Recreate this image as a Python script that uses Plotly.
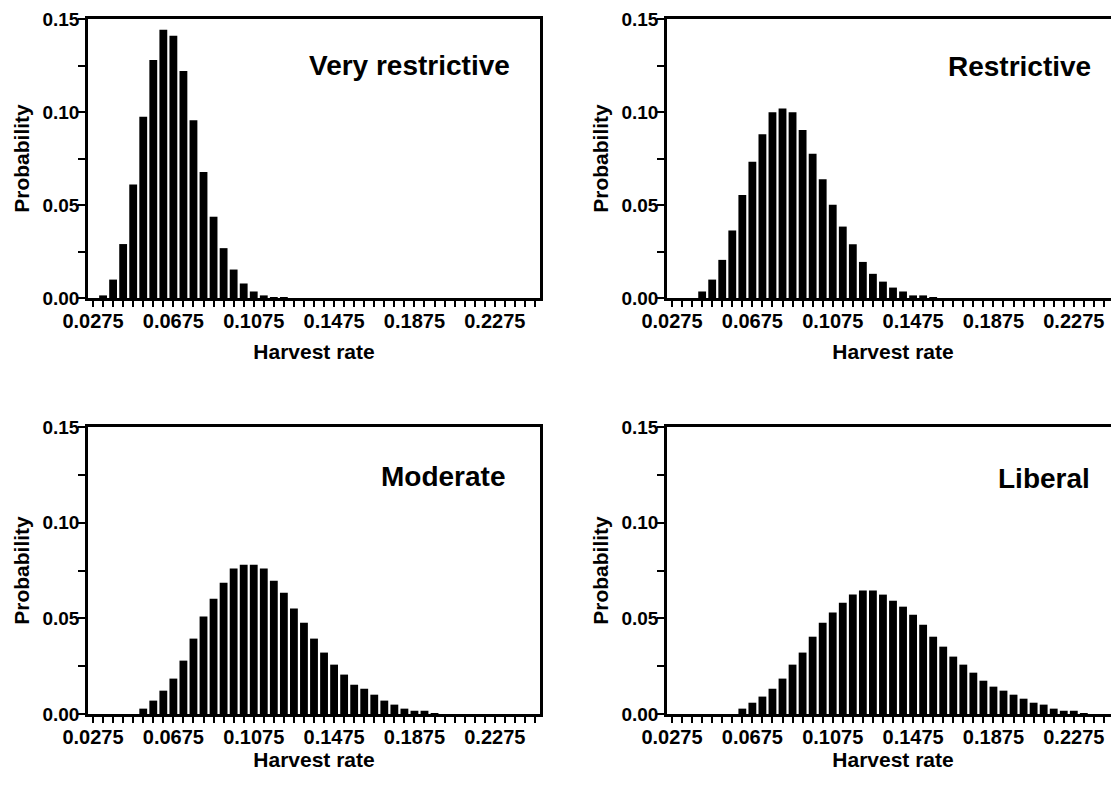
import plotly.graph_objects as go
from plotly.subplots import make_subplots

bin_centers = [0.0275, 0.0325, 0.0375, 0.0425, 0.0475, 0.0525, 0.0575, 0.0625, 0.0675,
               0.0725, 0.0775, 0.0825, 0.0875, 0.0925, 0.0975, 0.1025, 0.1075, 0.1125,
               0.1175, 0.1225, 0.1275, 0.1325, 0.1375, 0.1425, 0.1475, 0.1525, 0.1575,
               0.1625, 0.1675, 0.1725, 0.1775, 0.1825, 0.1875, 0.1925, 0.1975, 0.2025,
               0.2075, 0.2125, 0.2175, 0.2225, 0.2275, 0.2325, 0.2375, 0.2425, 0.2475]

x_tick_labels = ["0.0275", "0.0675", "0.1075", "0.1475", "0.1875", "0.2275"]
y_tick_vals = [0, 0.025, 0.05, 0.075, 0.10, 0.125, 0.15]
y_tick_text = ["0.00", "", "0.05", "", "0.10", "", "0.15"]

very_restrictive = [0.0, 0.0014, 0.0099, 0.029, 0.061, 0.0975, 0.128, 0.1442, 0.141,
                    0.122, 0.0955, 0.0678, 0.0437, 0.0268, 0.0153, 0.0078, 0.0035, 0.0014,
                    0.0005, 0.0002, 0, 0, 0, 0, 0, 0, 0, 0, 0, 0, 0, 0, 0, 0, 0, 0,
                    0, 0, 0, 0, 0, 0, 0, 0, 0]
restrictive = [0, 0, 0, 0.0035, 0.0099, 0.0205, 0.0363, 0.0554, 0.0733, 0.0881, 0.0998,
               0.1019, 0.0998, 0.0903, 0.0776, 0.0638, 0.0501, 0.0384, 0.0289, 0.0194,
               0.0130, 0.0088, 0.0056, 0.0035, 0.0014, 0.0014, 0.0003, 0, 0, 0, 0, 0,
               0, 0, 0, 0, 0, 0, 0, 0, 0, 0, 0, 0, 0]
moderate = [0, 0, 0, 0, 0, 0.0028, 0.0070, 0.0122, 0.0185, 0.0279, 0.0394, 0.0509,
            0.0603, 0.0686, 0.0760, 0.0780, 0.0780, 0.0760, 0.0697, 0.0634, 0.0551,
            0.0477, 0.0394, 0.0321, 0.0258, 0.0206, 0.0153, 0.0132, 0.0101, 0.0070,
            0.0049, 0.0028, 0.0017, 0.0017, 0.0003, 0, 0, 0, 0, 0, 0, 0, 0, 0, 0]
liberal = [0, 0, 0, 0, 0, 0, 0, 0.0028, 0.0059, 0.0091, 0.0132, 0.0185, 0.0258, 0.0321,
           0.0404, 0.0477, 0.0530, 0.0582, 0.0624, 0.0645, 0.0645, 0.0624, 0.0592,
           0.0561, 0.0519, 0.0467, 0.0404, 0.0352, 0.0300, 0.0258, 0.0216, 0.0174,
           0.0143, 0.0122, 0.0101, 0.0080, 0.0059, 0.0049, 0.0028, 0.0017, 0.0017,
           0.0003, 0, 0, 0]

panels = [
    ("Very restrictive", very_restrictive, 1, 1),
    ("Restrictive", restrictive, 1, 2),
    ("Moderate", moderate, 2, 1),
    ("Liberal", liberal, 2, 2),
]

OFF = 8  # page body margin
W, H = 1119 - OFF, 785 - OFF
fig = make_subplots(rows=2, cols=2)


def px_x(p):
    return (p - OFF) / W


def px_y(p):
    return 1 - (p - OFF) / H


x_dom = {1: [px_x(88), px_x(540)], 2: [px_x(667), 1.0]}
y_dom = {1: [px_y(298), px_y(19)], 2: [px_y(714), px_y(427)]}
x_title_standoff = {1: 14, 2: 0}
title_pos = {"Very restrictive": (0.938, 0.832), "Restrictive": (0.942, 0.829),
             "Moderate": (0.927, 0.826), "Liberal": (0.940, 0.822)}

font_family = "Liberation Sans, Arial, sans-serif"

x_text = []
for cval in bin_centers:
    match = ""
    for lbl in x_tick_labels:
        if abs(cval - float(lbl)) < 1e-9:
            match = lbl
    x_text.append(match)

for i, (name, vals, r, c) in enumerate(panels):
    fig.add_trace(go.Bar(x=bin_centers, y=vals, marker=dict(color="black", line=dict(width=0)),
                         showlegend=False, hoverinfo="x+y"), row=r, col=c)
    fig.update_xaxes(domain=x_dom[c], range=[0.025, 0.25], tickmode="array",
                     tickvals=bin_centers, ticktext=x_text, ticks="outside", ticklen=6,
                     tickwidth=2, tickcolor="black", showline=True, linewidth=3,
                     linecolor="black", mirror=True, showgrid=False, zeroline=False,
                     automargin=False, ticklabelstandoff=-3, ticklabeloverflow="allow",
                     tickfont=dict(family=font_family, size=20, color="black", weight="bold"),
                     title=dict(text="<b>Harvest rate</b>", standoff=x_title_standoff[r],
                                font=dict(family=font_family, size=21, color="black")),
                     row=r, col=c)
    fig.update_yaxes(domain=y_dom[r], range=[0, 0.15], tickmode="array",
                     tickvals=y_tick_vals, ticktext=y_tick_text, ticks="outside", ticklen=7,
                     tickwidth=2, tickcolor="black", showline=True, linewidth=2.5,
                     linecolor="black", mirror=(c == 1), showgrid=False, zeroline=False,
                     automargin=False, ticklabelstandoff=-5, ticklabeloverflow="allow",
                     tickfont=dict(family=font_family, size=19, color="black", weight="bold"),
                     title=dict(text="<b>Probability</b>", standoff=8,
                                font=dict(family=font_family, size=21, color="black")),
                     row=r, col=c)
    ax = "" if i == 0 else str(i + 1)
    tx, ty = title_pos[name]
    fig.add_annotation(text="<b>" + name + "</b>", xref="x" + ax + " domain",
                       yref="y" + ax + " domain", x=tx, y=ty, xanchor="right",
                       yanchor="middle", showarrow=False,
                       font=dict(family=font_family, size=28, color="black"))

fig.update_layout(width=W, height=H, margin=dict(l=0, r=0, t=0, b=0),
                  paper_bgcolor="white", plot_bgcolor="white", bargap=0.22,
                  font=dict(family=font_family, color="black"))

fig.write_html("out.html")
